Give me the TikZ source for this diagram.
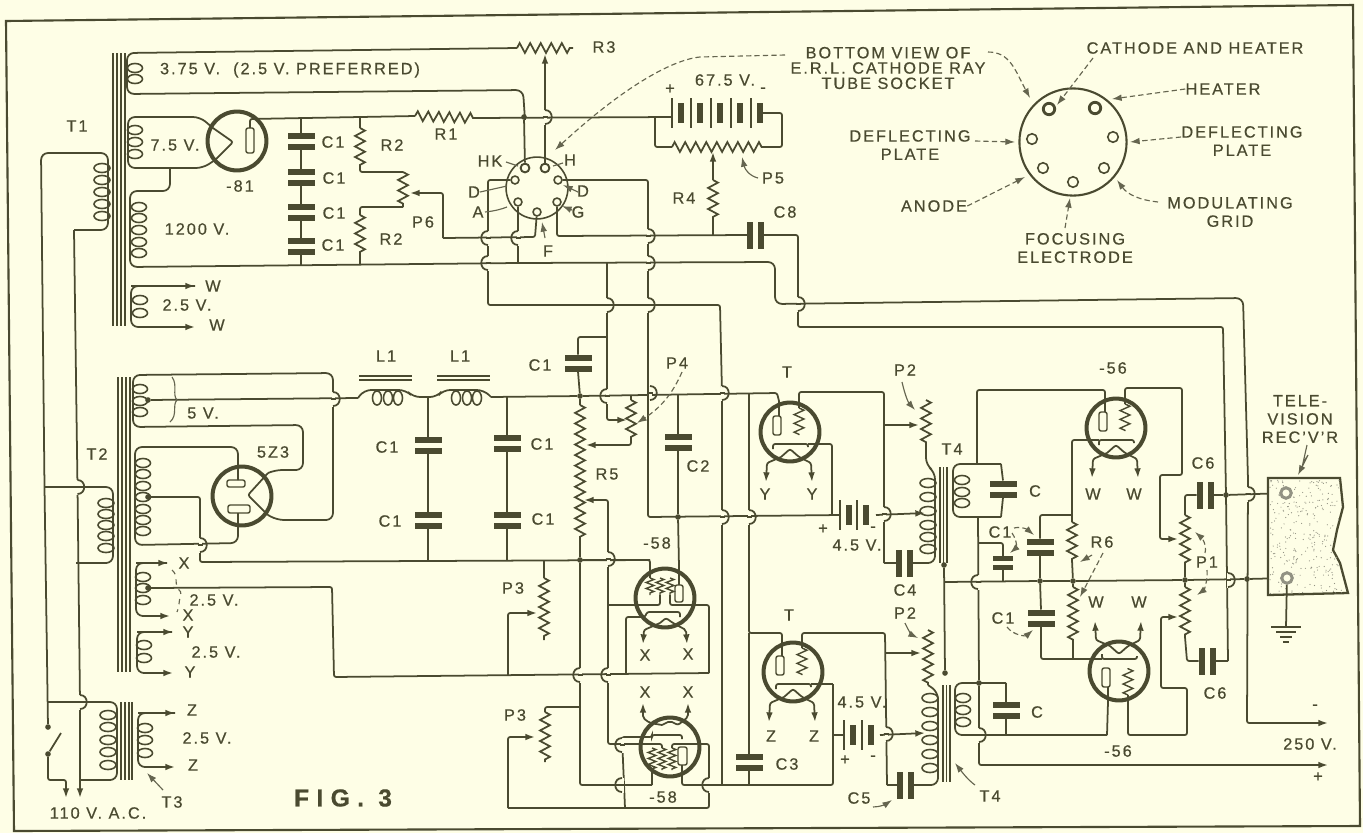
\documentclass[tikz,border=0pt]{standalone}
\usepackage{fontspec}
\setmainfont[LetterSpace=12,FakeBold=0.5]{Liberation Sans}
\usetikzlibrary{calc}
\usetikzlibrary{arrows.meta}
\usetikzlibrary{positioning}
\usetikzlibrary{decorations.pathmorphing}
\definecolor{paper}{HTML}{FEFEE6}
\definecolor{ink}{HTML}{4A4A30}
\tikzset{>={Latex[length=5.5pt,width=3.8pt]}}
\tikzstyle{wire} = [ink, line width=1pt, rounded corners=1.2pt]
\tikzstyle{coilwire} = [ink, line width=1pt, rounded corners=4pt]
\tikzstyle{res} = [ink, line width=1pt, decorate, decoration={zigzag, segment length=6pt, amplitude=2.8pt}]
\tikzstyle{fineres} = [ink, line width=0.8pt, decorate, decoration={zigzag, segment length=3.4pt, amplitude=2.2pt}]
\tikzstyle{lead} = [ink!85, line width=0.65pt, dash pattern=on 3pt off 1.8pt, ->]
\tikzstyle{tick} = [ink!85, line width=0.65pt]
\tikzstyle{core} = [ink, line width=0.6pt]
\tikzstyle{ring} = [circle, draw=ink, line width=2.3pt, minimum size=33.5pt, inner sep=0]
\tikzstyle{dot} = [circle, fill=ink, minimum size=3.2pt, inner sep=0]
\tikzstyle{pin} = [circle, draw=ink, line width=0.9pt, fill=paper, minimum size=4.5pt, inner sep=0]
\tikzstyle{bigpin} = [circle, draw=ink, line width=1.6pt, fill=paper, minimum size=6.5pt, inner sep=0]
\tikzstyle{term} = [circle, draw=ink!60, line width=1.7pt, fill=paper, minimum size=6pt, inner sep=0]
\tikzstyle{lab} = [ink, inner sep=0, align=center, font=\fontsize{9.3}{10.4}\selectfont]
\newcommand{\coil}[3]{\foreach \k in {#3} {\draw[core, line width=0.9pt] (#1,\k) ellipse (#2 and 4.5);}}
\newcommand{\coilh}[2]{\foreach \k in {#2} {\draw[core, line width=0.9pt] (\k,#1) ellipse (4.5 and 7);}}
\newcommand{\cells}[2]{\foreach \k in {#1} {\draw[wire] (\k,#2-15) -- (\k,#2+15); \fill[ink] (\k+6,#2-10) rectangle (\k+12,#2+10);}}
\tikzset{
  capv/.pic={
    \fill[ink] (-13.5,-8.5) rectangle (13.5,-2.5);
    \fill[ink] (-13.5,2.5) rectangle (13.5,8.5);
    \coordinate (-t) at (0,-8.5);
    \coordinate (-b) at (0,8.5);
  },
  hopr/.pic={
    \fill[paper] (-1.5,-7.5) rectangle (1.5,7.5);
    \draw[wire] (-2.5,0) -- (2.5,0);
    \draw[wire] (0,-7) .. controls (9,-7) and (9,7) .. (0,7);
  },
  hopl/.pic={
    \fill[paper] (-1.5,-7.5) rectangle (1.5,7.5);
    \draw[wire] (-2.5,0) -- (2.5,0);
    \draw[wire] (0,-7) .. controls (-9,-7) and (-9,7) .. (0,7);
  },
  triode/.pic={
    \node[ring] at (0,0) {};
    \draw[wire, line width=.8pt] (-17,-16) rectangle (-9,3);
    \draw[wire] (-11,-31) -- (-11,-16);
    \draw[wire] (9,-31) -- (9,-24);
    \draw[fineres, decoration={segment length=5pt, amplitude=2.8pt}] (9,-24) -- (9,3);
    \draw[wire] (-17,17) -- (-17,12) -- (18,12) -- (18,15);
    \draw[wire, ->] (-9,25) -- (0,17) -- (9,25) -- (21,31) -- (22,50);
    \draw[wire, ->] (-9,25) -- (-23,31) -- (-24,50);
    \coordinate (-tl) at (-11,-31);
    \coordinate (-tr) at (9,-31);
    \coordinate (-gl) at (-17,12);
    \coordinate (-gr) at (18,12);
  },
  pentup/.pic={
    \node[ring] at (0,0) {};
    \foreach \x in {-15,-5,5} {\draw[fineres] (\x,-20) -- (\x,-3);}
    \draw[wire, line width=.8pt] (10,-13) rectangle (18,4);
    \draw[wire] (-15,-31) -- (-15,-20);
    \draw[wire] (14,-31) -- (14,-13);
    \draw[wire] (-31,7) -- (-5,7) -- (-5,-3);
    \draw[wire] (31,7) -- (5,7) -- (5,-3);
    \draw[wire] (-31,19) -- (-20,19) -- (-18,14) -- (15,14) -- (15,19);
    \draw[wire, ->] (-5,25) -- (1,20) -- (8,25) -- (21,32) -- (22,46);
    \draw[wire, ->] (-5,25) -- (-21,32) -- (-22,46);
    \coordinate (-a) at (-15,-31);
    \coordinate (-b) at (14,-31);
    \coordinate (-gl) at (-31,7);
    \coordinate (-gr) at (31,7);
    \coordinate (-k) at (-31,19);
  },
  pentdn/.pic={
    \node[ring] at (0,0) {};
    \foreach \x in {-18,-8,2} {\draw[fineres] (\x,1) -- (\x,23);}
    \draw[wire, line width=.8pt] (8,0) rectangle (17,18);
    \draw[wire] (-18,23) -- (-18,31);
    \draw[wire] (12,18) -- (12,31);
    \draw[wire] (-31,-3) -- (-8,-3) -- (-8,1);
    \draw[wire] (31,-3) -- (2,-3) -- (2,1);
    \draw[wire] (-31,-10) -- (-18,-10) -- (-18,-12) -- (12,-12) -- (12,-8);
    \draw[wire, ->] (-8,-22) -- (0,-26) -- (8,-22) -- (18,-30) -- (18,-44);
    \draw[wire, ->] (-8,-22) -- (-20,-24) -- (-27,-29) -- (-27,-44);
    \coordinate (-a) at (-18,31);
    \coordinate (-b) at (12,31);
    \coordinate (-gl) at (-31,-3);
    \coordinate (-gr) at (31,-3);
    \coordinate (-k) at (-31,-10);
  },
}

\begin{document}
\begin{tikzpicture}[x=0.02cm, y=-0.02cm]
\useasboundingbox (0,0) rectangle (1363,833);
\fill[paper] (0,0) rectangle (1363,833);
\draw[ink, line width=1.2pt] (6,21) -- (1353,5) -- (1360,826) -- (14,831) -- cycle;

% power transformer T1
\foreach \x in {113,117,121,125} {\draw[core] (\x,53) -- (\x,326);}
\coil{102}{8}{168,180,192,204,216}
\coil{135}{7.5}{68,79}
\coil{135}{7.5}{130,142,154}
\coil{139}{7.5}{207,218,230,242,253}
\coil{140}{7.5}{300,313}
\node[dot] (sw1) at (48,727) {};
\node[dot] (sw2) at (48,754) {};
\draw[coilwire] (sw1) -- (44.5,487) -- (41,153) -- (108,153) -- (108,230) -- (74,230);
\draw[coilwire, ->] (74,230) -- (77.5,487) -- (80,702) -- (80,798);
\draw[wire] (sw2) -- (61,733);
\draw[wire, ->] (sw2) -- (48,780) -- (66,780) -- (66,798);
\coordinate (r3a) at (517,48);
\coordinate (r3b) at (573,48);
\draw[res] (r3a) -- (r3b);
\draw[coilwire] (r3a) -- (127,53) -- (127,94) -- (523,90) -- (525,120);
\draw[coilwire] (213,128) -- (200,117) -- (128,117) -- (128,168) -- (203,168) -- (215,160);
\draw[wire] (213,128) -- (233,142) -- (215,160);
\node[ring] (t81) at (237,141) {};
\draw[wire, line width=.8pt] (246,128) rectangle (254,153);
\coordinate (r1a) at (415,116);
\coordinate (r1b) at (473,118);
\draw[wire] (250,128) -- (250,119) -- (r1a);
\draw[res] (r1a) -- (r1b);
\draw[wire] (r1b) -- (672,117);
\draw[coilwire] (170,168) -- (170,191) -- (130,191) -- (130,267) -- (517,263) -- (775,262) -- (775,304) -- (1243,298) -- (1248,480);
\draw[wire, ->] (1248,480) -- (1247,723) -- (1328,723);
\draw[coilwire, ->] (195,286) -- (131,286) -- (131,327) -- (195,327);
\draw[wire, ->] (131,286) -- (195,286);

% filter of the high voltage supply
\pic (ca) at (301,141) {capv};
\pic (cb) at (301,177) {capv};
\pic (cc) at (301,212) {capv};
\pic (cd) at (301,246) {capv};
\draw[wire] (301,119) -- (ca-t);
\draw[wire] (ca-b) -- (cb-t);
\draw[wire] (cb-b) -- (cc-t);
\draw[wire] (cc-b) -- (cd-t);
\draw[wire] (cd-b) -- (301,265);
\draw[wire] (360,118) -- (360,128);
\draw[res] (360,128) -- (360,168);
\draw[wire] (360,168) -- (360,172) -- (403,172);
\draw[res] (403,172) -- (403,207);
\draw[wire] (403,207) -- (360,207) -- (360,215);
\draw[res] (360,215) -- (360,255);
\draw[wire] (360,255) -- (360,265);
\draw[wire, ->] (443,238) -- (443,193) -- (410,193);

% socket of the tube
\node[circle, draw=ink, line width=0.9pt, minimum size=35.2pt, inner sep=0] (sock) at (537,188) {};
\node[bigpin, minimum size=5pt, line width=1.1pt] (pinHK) at (525,168) {};
\node[bigpin, minimum size=5pt, line width=1.1pt] (pinH) at (545,168) {};
\node[pin] (pinDl) at (515,180) {};
\node[pin] (pinDr) at (558,180) {};
\node[pin] (pinA) at (518,202) {};
\node[pin] (pinF) at (537,212) {};
\node[pin] (pinG) at (557,202) {};
\node[dot] (jhk) at (524,117) {};
\draw[wire] (jhk) -- (pinHK);
\draw[wire, ->] (pinH) -- (545,54);
\draw[wire] (pinDl) -- (488,180) -- (488,305) -- (720,305) -- (722,393) -- (722,785);
\draw[wire] (pinA) -- (518,263);
\draw[wire] (443,238) -- (535,237) -- (pinF);
\draw[wire] (pinG) -- (557,236) -- (748,235);
\draw[wire] (pinDr) -- (648,180) -- (648,517) -- (840,515);
\draw[wire, ->] (607,263) -- (607,420) -- (627,420);

% bias battery and divider
\cells{672,691,711,731,751}{113}
\coordinate (p5a) at (672,147);
\coordinate (p5b) at (762,147);
\draw[wire] (655,117) -- (655,147) -- (p5a);
\draw[res] (p5a) -- (p5b);
\draw[wire] (p5b) -- (782,147) -- (782,113) -- (763,113);
\coordinate (r4a) at (713,180);
\coordinate (r4b) at (713,220);
\draw[wire, ->] (r4a) -- (713,152);
\draw[res] (r4a) -- (r4b);
\draw[wire] (r4b) -- (713,235);
\pic[rotate=90] (c8) at (755,235) {capv};
\draw[wire] (c8-b) -- (798,235) -- (798,327) -- (1223,327) -- (1226,495) -- (1228,661);

% rectifier supply T2
\foreach \x in {118,122,126,130} {\draw[core] (\x,377) -- (\x,672);}
\coil{106}{8}{503,514,525,536,548}
\coil{140}{7.5}{389,401,412}
\coil{143}{7.5}{463,474,486,497,509,520,531}
\coil{143}{7.5}{577,588,600}
\coil{144}{7.5}{645,658}
\draw[coilwire] (44.5,487) -- (113,487) -- (113,563) -- (76,563);
\node[dot] (j5v) at (148,400) {};
\node[dot] (jct) at (148,497) {};
\node[dot] (jx) at (148,588) {};
\draw[coilwire] (268,473) -- (275,470) -- (303,470) -- (303,425) -- (133,427) -- (133,375) -- (333,373) -- (333,520) -- (277,520) -- (268,515);
\draw[wire] (268,473) -- (248,495) -- (268,515);
\node[ring] (t5z3) at (242,496) {};
\draw[wire, line width=.8pt] (227,480) rectangle (245,487);
\draw[wire, line width=.8pt] (228,505) rectangle (250,513);
\draw[coilwire] (238,480) -- (238,447) -- (135,447) -- (135,545) -- (238,543) -- (238,513);
\draw[wire] (jct) -- (200,497) -- (200,562) -- (650,560);
\draw[wire] (j5v) -- (358,398);
\coordinate (l1a) at (358,398);
\coordinate (l1b) at (413,397);
\coordinate (l2a) at (437,397);
\coordinate (l2b) at (491,397);
\coilh{398}{377,388,398}
\coilh{398}{456,467,477}
\draw[coilwire] (l1a) -- (364,390) -- (406,390) -- (l1b) -- (l2a) -- (443,390) -- (484,390) -- (l2b);
\foreach \y in {376,380} {\draw[core] (359,\y) -- (412,\y); \draw[core] (437,\y) -- (490,\y);}
\pic (ce) at (428,445) {capv};
\pic (cf) at (428,520) {capv};
\draw[wire] (428,397) -- (ce-t);
\draw[wire] (ce-b) -- (cf-t);
\draw[wire] (cf-b) -- (428,561);
\pic (cg) at (507,443) {capv};
\pic (ch) at (507,520) {capv};
\draw[wire] (507,397) -- (cg-t);
\draw[wire] (cg-b) -- (ch-t);
\draw[wire] (ch-b) -- (507,561);
\draw[coilwire, ->] (167,563) -- (136,563) -- (136,616) -- (170,616);
\draw[wire, ->] (136,563) -- (168,563);
\draw[coilwire, ->] (172,632) -- (137,632) -- (137,673) -- (173,673);
\draw[wire, ->] (137,632) -- (173,632);
\draw[wire] (jx) -- (332,587) -- (334,677) -- (709,673);

% T3
\foreach \x in {121,125,129,132} {\draw[core] (\x,702) -- (\x,780);}
\coil{108}{8}{715,727,740,752,765}
\coil{145}{7.5}{728,740,753}
\draw[coilwire] (48,702) -- (117,702) -- (117,780) -- (80,780);
\draw[coilwire, ->] (175,713) -- (138,713) -- (138,767) -- (175,767);
\draw[wire, ->] (138,713) -- (175,713);

% main line, divider R5, P3, P4
\node[dot] (jt) at (580,396) {};
\node[dot] (jb) at (580,560) {};
\draw[wire] (l2b) -- (jt) -- (777,393) -- (779,401);
\coordinate (r5a) at (580,405);
\coordinate (r5b) at (580,540);
\draw[wire] (jt) -- (r5a);
\draw[res] (r5a) -- (r5b);
\draw[wire] (r5b) -- (jb) -- (580,785) -- (652,785);
\pic (ci) at (578,363) {capv};
\draw[wire] (607,337) -| (ci-t);
\draw[wire] (ci-b) -- (jt);
\coordinate (p4a) at (631,400);
\coordinate (p4b) at (631,440);
\draw[wire] (631,395) -- (p4a);
\draw[res] (p4a) -- (p4b);
\draw[wire, ->] (p4b) -- (631,445) -- (586,445);
\pic (c2) at (678,442) {capv};
\node[dot] (jc2) at (678,517) {};
\draw[wire] (678,395) -- (c2-t);
\draw[wire] (c2-b) -- (jc2);
\coordinate (p3a) at (544,578);
\coordinate (p3b) at (544,640);
\draw[wire] (544,560) -- (p3a);
\draw[res] (p3a) -- (p3b);
\draw[wire, ->] (508,675) -- (508,613) -- (537,613);
\coordinate (p3c) at (545,712);
\coordinate (p3d) at (545,762);
\draw[wire] (580,707) -- (545,707) -- (p3c);
\draw[res] (p3c) -- (p3d);

% -58 tubes
\pic (tp) at (665,598) {pentup};
\pic (tq) at (670,747) {pentdn};
\draw[wire] (jb) -- (650,560) -- (tp-a);
\draw[wire] (jc2) -- (tp-b);
\draw[wire, ->] (tq-gl) -- (608,744) -- (608,500) -- (584,500);
\draw[wire] (608,605) -- (tp-gl);
\draw[wire] (tp-gr) -- (709,605) -- (709,673);
\draw[wire] (626,674) -- (626,617) -- (tp-k);
\draw[wire] (tq-gr) -- (709,744) -- (709,808) -- (508,808);
\draw[wire, ->] (508,808) -- (508,737) -- (535,737);
\draw[wire] (625,808) -- (622,737) -- (tq-k);
\draw[wire] (tq-a) -- (652,785);
\draw[wire] (tq-b) -- (682,785) -- (833,785) -- (833,684);

% triodes T with their batteries
\pic (ta) at (790,432) {triode};
\pic (tb) at (793,672) {triode};
\draw[wire] (749,393) -- (749,633) -- (782,633) -- (tb-tl);
\pic (c3) at (749,762) {capv};
\draw[wire] (749,633) -- (c3-t);
\draw[wire] (c3-b) -- (749,785);
\draw[wire] (ta-gr) -- (832,444) -- (832,515);
\draw[wire] (tb-gr) -- (833,684);
\cells{840,857}{515}
\cells{844,862}{735}
\draw[wire] (833,735) -- (844,735);
\draw[wire] (ta-tr) -- (799,392) -- (884,392) -- (884,563);
\draw[wire] (tb-tr) -- (802,633) -- (885,633) -- (887,785);
\draw[wire, ->] (884,425) -- (919,425);
\draw[wire, ->] (885,653) -- (921,653);
\draw[wire, ->] (876,515) -- (925,513);
\draw[wire, ->] (880,735) -- (925,733);

% output transformers T4
\foreach \x in {940,943.5,947} {\draw[core] (\x,467) -- (\x,563);}
\foreach \x in {943,946.5,950} {\draw[core] (\x,685) -- (\x,782);}
\coil{928}{8}{483,497,511,525,537,549}
\coil{930}{8}{698,712,726,740,754,768}
\coil{962}{7.5}{480,492,503}
\coil{963}{7.5}{698,710,722}
\pic[rotate=90] (c4) at (904.5,563) {capv};
\pic[rotate=90] (c5) at (905,785) {capv};
\draw[wire] (884,563) -- (c4-t);
\draw[wire] (887,785) -- (c5-t);
\coordinate (p2a) at (926,400);
\coordinate (p2b) at (926,445);
\coordinate (p2c) at (928,630);
\coordinate (p2d) at (928,685);
\draw[res] (p2a) -- (p2b);
\draw[res] (p2c) -- (p2d);
\draw[coilwire] (p2b) -- (926,465) -- (935,472) -- (935,563) -- (c4-b);
\draw[coilwire] (p2d) -- (938,692) -- (938,785) -- (c5-b);
\node[dot] (ju) at (944,565) {};
\node[dot] (jl) at (945,673) {};
\draw[wire] (ju) -- (jl);
\pic (cj) at (1003,489) {capv};
\pic (ck) at (1006,710) {capv};
\draw[coilwire] (1001,464) -- (953,464) -- (953,517) -- (1001,517);
\draw[wire] (1001,464) -- (cj-t);
\draw[wire] (cj-b) -- (1001,517);
\draw[coilwire] (1006,683) -- (955,683) -- (955,735) -- (1107,735);
\draw[wire] (1006,683) -- (ck-t);
\draw[wire] (ck-b) -- (1006,735);
\node[dot] (jm) at (979,683) {};
\draw[wire, ->] (978,517) -- (jm) -- (979,765) -- (1328,765);
\pic[xscale=.75, yscale=.85] (cl) at (1003,563) {capv};
\draw[wire] (979,543) -- (1003,543) -- (cl-t);
\draw[wire] (cl-b) -- (1003,581);
\node[dot] (jn) at (1040,581) {};
\node[dot] (jo) at (1073,581) {};
\node[dot] (jp) at (1185,580) {};
\node[dot] (jq) at (1247,579) {};
\node[term] (tva) at (1286,493) {};
\node[term] (tvb) at (1287,578) {};
\draw[wire] (944,582) -- (jn) -- (jo) -- (jp) -- (jq) -- (tvb);
\pic (cm) at (1040,547) {capv};
\pic (cn) at (1041,618) {capv};
\draw[wire] (1072,515) -- (1040,515) -- (cm-t);
\draw[wire] (cm-b) -- (jn);
\draw[wire] (jn) -- (cn-t);

% -56 tubes
\pic (tc) at (1116,428) {triode};
\pic[yscale=-1] (td) at (1119,671) {triode};
\draw[wire] (977,464) -- (977,390) -- (1105,390) -- (tc-tl);
\draw[wire, ->] (tc-tr) -- (1125,388) -- (1182,388) -- (1182,475) -- (1160,475) -- (1160,539) -- (1178,539);
\draw[wire] (tc-gl) -- (1072,440) -- (1072,522);
\draw[res] (1072,522) -- (1072,560);
\draw[wire] (1072,560) -- (jo);
\draw[wire] (jo) -- (1073,587);
\draw[res] (1073,587) -- (1073,640);
\draw[wire] (1073,640) -- (1073,659);
\draw[wire] (cn-b) -- (1041,659) -- (td-gl);
\draw[wire] (1107,735) -- (td-tl);
\draw[wire, ->] (td-tr) -- (1128,735) -- (1187,735) -- (1187,688) -- (1161,688) -- (1161,617) -- (1178,617);

% output network P1, C6 and the receiver
\pic[rotate=90] (c6a) at (1205,495) {capv};
\pic[rotate=90] (c6b) at (1207,661) {capv};
\node[dot] (jr) at (1226,495) {};
\draw[res] (1185,515) -- (1185,565);
\draw[wire] (1185,565) -- (jp);
\draw[res] (1185,587) -- (1185,637);
\draw[wire] (jp) -- (1185,587);
\draw[wire] (1185,515) |- (c6a-t);
\draw[wire] (1185,637) -- (1187,661) -- (c6b-t);
\draw[wire] (c6b-b) -- (1228,661);
\draw[wire] (c6a-b) -- (jr) -- (tva);
\draw[ink, line width=1.3pt, fill=paper] (1268,478) -- (1340,478) -- (1343,507) -- (1337,530) -- (1333,550) -- (1340,563) -- (1348,593) -- (1268,595) -- cycle;
\begin{scope}
\clip (1268,478) -- (1340,478) -- (1343,507) -- (1337,530) -- (1333,550) -- (1340,563) -- (1348,593) -- (1268,595) -- cycle;
\pgfmathsetseed{11}
\foreach \i in {1,...,300} {\pgfmathsetmacro{\px}{1270+rnd*78}\pgfmathsetmacro{\py}{480+rnd*114}\fill[ink!60] (\px,\py) circle (.6);}
\end{scope}
\node[term] at (tva) {};
\node[term] at (tvb) {};
\draw[wire] (tvb) -- (1286,627);
\draw[wire] (1271,627) -- (1301,627);
\draw[wire] (1276,632) -- (1296,632);
\draw[wire] (1280,637) -- (1292,637);
\draw[wire] (1283,642) -- (1289,642);
\draw[tick, ->] (1307,445) -- (1303,463) -- (1308,455) -- (1298,475);

% hops over the wires
\foreach \x/\y in {545/117,648/236,648/263,648/305,607/305,798/304,650/393,722/393,722/517,749/517,333/399,77.5/487,80/702,200/545,608/559,884/514,886/734,1248/494,1228/580,979/735} {\pic at (\x,\y) {hopr};}
\foreach \x/\y in {488/238,488/263,518/238,607/396,978/582,580/675,608/675,622/745,622/785,709/785} {\pic at (\x,\y) {hopl};}

% the large socket
\node[circle, draw=ink, line width=1.2pt, minimum size=61pt, inner sep=0] (big) at (1073,142) {};
\node[bigpin] (bk) at (1049,109) {};
\node[bigpin] (bh) at (1095,108) {};
\node[pin, minimum size=6pt] (bdl) at (1032,139) {};
\node[pin, minimum size=6pt] (bdr) at (1113,137) {};
\node[pin, minimum size=6pt] (ba) at (1043,168) {};
\node[pin, minimum size=6pt] (bg) at (1104,168) {};
\node[pin, minimum size=6pt] (bf) at (1073,182) {};

% labels
\node[lab] (l375) at (290,70) {3.75 V.\ \ (2.5 V.\ PREFERRED)};
\node[lab] (lT1) at (77,126) {T1};
\node[lab] (l75) at (175,145) {7.5 V.};
\node[lab] (l81) at (240,186) {-81};
\node[lab] (l1200) at (197,229) {1200 V.};
\node[lab] (lW1) at (213,286) {W};
\node[lab] (l25w) at (187,305) {2.5 V.};
\node[lab] (lW2) at (217,325) {W};
\node[lab] (lC1a) at (333,142) {C1};
\node[lab] (lC1b) at (334,178) {C1};
\node[lab] (lC1c) at (334,213) {C1};
\node[lab] (lC1d) at (333,245) {C1};
\node[lab] (lR2a) at (392,145) {R2};
\node[lab] (lR2b) at (391,239) {R2};
\node[lab] (lP6) at (423,222) {P6};
\node[lab] (lR1) at (446,134) {R1};
\node[lab] (lR3) at (604,47) {R3};
\node[lab] (lHK) at (490,161) {HK};
\node[lab] (lH) at (570,160) {H};
\node[lab] (lDl) at (474,192) {D};
\node[lab] (lDr) at (583,191) {D};
\node[lab] (lA) at (478,212) {A};
\node[lab] (lG) at (578,212) {G};
\node[lab] (lF) at (548,251) {F};
\node[lab] (l675) at (725,80) {67.5 V.};
\node[lab] (lplus) at (670,89) {+};
\node[lab] (lminus) at (763,90) {-};
\node[lab] (lP5) at (773,178) {P5};
\node[lab] (lR4) at (684,198) {R4};
\node[lab] (lC8) at (785,212) {C8};
\node[lab] (lbot) at (888,68) {BOTTOM VIEW OF\\[-1.7pt]E.R.L. CATHODE RAY\\[-1.7pt]TUBE SOCKET};
\node[lab] (lcat) at (1195,48) {CATHODE AND HEATER};
\node[lab] (lheat) at (1223,89) {HEATER};
\node[lab] (ldefr) at (1242,141) {DEFLECTING\\PLATE};
\node[lab] (ldefl) at (910,145) {DEFLECTING\\PLATE};
\node[lab] (lano) at (934,206) {ANODE};
\node[lab] (lmod) at (1230,212) {MODULATING\\GRID};
\node[lab] (lfoc) at (1075,248) {FOCUSING\\ELECTRODE};
\node[lab] (lT2) at (97,454) {T2};
\node[lab] (l5v) at (203,413) {5 V.};
\node[lab] (l5z3) at (273,452) {5Z3};
\node[lab] (lXa) at (184,563) {X};
\node[lab] (lXb) at (188,615) {X};
\node[lab] (l25x) at (214,600) {2.5 V.};
\node[lab] (lYa) at (188,632) {Y};
\node[lab] (l25y) at (216,652) {2.5 V.};
\node[lab] (lYb) at (190,672) {Y};
\node[lab] (lZa) at (192,710) {Z};
\node[lab] (l25z) at (207,738) {2.5 V.};
\node[lab] (lZb) at (193,765) {Z};
\node[lab] (lT3) at (172,802) {T3};
\node[lab] (l110) at (98,813) {110 V. A.C.};
\node[lab, font=\fontsize{14}{16}\bfseries\selectfont\addfontfeature{LetterSpace=30}] (lfig) at (343,798) {FIG. 3};
\node[lab] (lL1a) at (386,356) {L1};
\node[lab] (lL1b) at (460,356) {L1};
\node[lab] (lC1e) at (387,447) {C1};
\node[lab] (lC1f) at (390,521) {C1};
\node[lab] (lC1g) at (542,444) {C1};
\node[lab] (lC1h) at (543,519) {C1};
\node[lab] (lC1i) at (540,365) {C1};
\node[lab] (lP4) at (677,363) {P4};
\node[lab] (lR5) at (607,474) {R5};
\node[lab] (lC2) at (698,466) {C2};
\node[lab] (l58a) at (657,543) {-58};
\node[lab] (lP3a) at (513,588) {P3};
\node[lab] (lP3b) at (515,715) {P3};
\node[lab] (lXc) at (645,655) {X};
\node[lab] (lXd) at (688,654) {X};
\node[lab] (lXe) at (645,692) {X};
\node[lab] (lXf) at (688,692) {X};
\node[lab] (l58b) at (663,797) {-58};
\node[lab] (lTa) at (787,372) {T};
\node[lab] (lTb) at (789,615) {T};
\node[lab] (lYc) at (765,494) {Y};
\node[lab] (lYd) at (812,494) {Y};
\node[lab] (lZc) at (771,736) {Z};
\node[lab] (lZd) at (814,736) {Z};
\node[lab] (lC3) at (787,764) {C3};
\node[lab] (lbp1) at (823,529) {+};
\node[lab] (lbm1) at (873,529) {-};
\node[lab] (l45a) at (857,545) {4.5 V.};
\node[lab] (l45b) at (862,702) {4.5 V.};
\node[lab] (lbp2) at (845,760) {+};
\node[lab] (lbm2) at (873,758) {-};
\node[lab] (lP2a) at (905,370) {P2};
\node[lab] (lP2b) at (905,613) {P2};
\node[lab] (lC4) at (905,590) {C4};
\node[lab] (lC5) at (859,798) {C5};
\node[lab] (lT4a) at (952,449) {T4};
\node[lab] (lT4b) at (990,796) {T4};
\node[lab] (lCa) at (1035,491) {C};
\node[lab] (lCb) at (1037,712) {C};
\node[lab] (lC1j) at (1000,532) {C1};
\node[lab] (lC1k) at (1003,618) {C1};
\node[lab] (lR6) at (1102,542) {R6};
\node[lab] (l56a) at (1113,368) {-56};
\node[lab] (l56b) at (1118,751) {-56};
\node[lab] (lWa) at (1093,494) {W};
\node[lab] (lWb) at (1134,494) {W};
\node[lab] (lWc) at (1096,602) {W};
\node[lab] (lWd) at (1139,602) {W};
\node[lab] (lC6a) at (1203,463) {C6};
\node[lab] (lC6b) at (1215,693) {C6};
\node[lab] (lP1) at (1207,562) {P1};
\node[lab] (ltv) at (1300,419) {TELE-\\VISION\\REC'V'R};
\node[lab] (l250) at (1310,744) {250 V.};
\node[lab] (lm) at (1315,707) {-};
\node[lab] (lp) at (1318,777) {+};

% thin leaders and dashed pointers
\draw[lead] (785,55) -- (700,57) .. controls (670,60) and (620,90) .. (555,150);
\draw[lead] (988,52) .. controls (1010,52) and (1015,70) .. (1030,98);
\draw[lead] (1093,58) -- (1057,105);
\draw[lead] (lheat.west) -- (1112,99);
\draw[lead] (ldefr.west |- 0,137) -- (1130,142);
\draw[lead] (975,141) -- (1015,142);
\draw[lead] (lano.east) -- (1025,177);
\draw[lead] (1065,228) -- (1070,198);
\draw[lead] (1158,202) .. controls (1140,200) and (1128,195) .. (1117,180);
\draw[tick, ->] (758,178) .. controls (750,176) and (745,170) .. (742,157);
\draw[tick] (506,162) -- (518,166);
\draw[tick] (563,163) -- (553,166);
\draw[tick] (480,192) -- (507,186);
\draw[tick] (485,212) .. controls (495,211) and (502,209) .. (507,207);
\draw[tick, ->] (578,192) -- (563,185);
\draw[tick, ->] (572,210) -- (562,206);
\draw[tick, ->] (545,238) -- (542,222);
\draw[lead] (682,372) .. controls (672,395) and (660,408) .. (637,423);
\draw[tick] (172,377) .. controls (178,385) and (172,395) .. (177,400) .. controls (172,405) and (178,415) .. (170,422);
\draw[tick, dashed] (172,570) .. controls (178,575) and (175,582) .. (177,587) .. controls (180,592) and (182,592) .. (181,595) .. controls (178,602) and (180,606) .. (177,612);
\draw[tick, ->] (163,790) -- (147,773);
\draw[tick, ->] (902,382) .. controls (905,395) and (908,402) .. (915,410);
\draw[tick, ->] (905,623) .. controls (908,630) and (912,635) .. (918,638);
\draw[tick, ->] (873,807) .. controls (880,807) and (886,804) .. (892,800);
\draw[tick, ->] (975,785) .. controls (968,780) and (962,772) .. (955,763);
\draw[lead] (1014,528) .. controls (1022,526) and (1028,530) .. (1034,535);
\draw[lead] (1012,533) .. controls (1018,542) and (1016,548) .. (1010,553);
\draw[lead] (1007,627) .. controls (1014,636) and (1026,636) .. (1033,630);
\draw[tick, ->] (1092,555) -- (1080,562);
\draw[lead] (1103,553) -- (1080,597);
\draw[lead] (1205,553) .. controls (1207,545) and (1202,538) .. (1195,532);
\draw[lead] (1207,570) .. controls (1208,580) and (1204,590) .. (1197,595);
\end{tikzpicture}
\end{document}
